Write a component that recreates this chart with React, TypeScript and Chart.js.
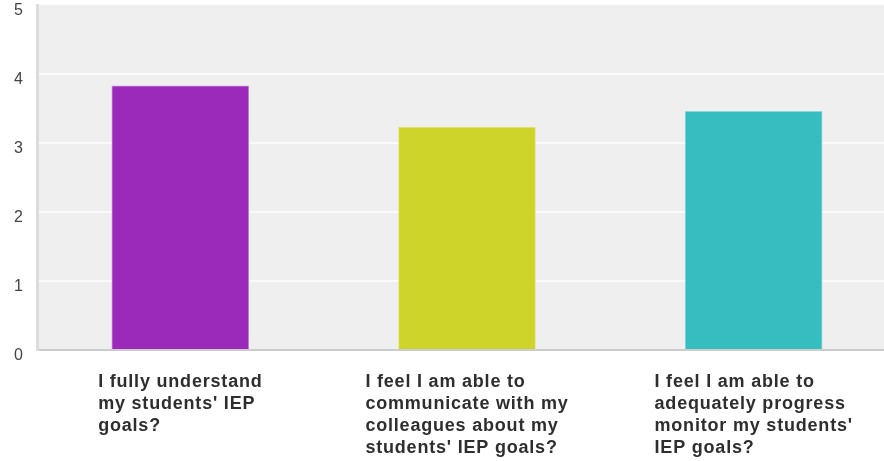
import React, { useEffect, useRef } from "react";
import { Chart, registerables } from "chart.js";

Chart.register(...registerables);

const categoryLines: string[][] = [
  ["I fully understand", "my students' IEP", "goals?"],
  ["I feel I am able to", "communicate with my", "colleagues about my", "students' IEP goals?"],
  ["I feel I am able to", "adequately progress", "monitor my students'", "IEP goals?"],
];
const categories = categoryLines.map((l) => l.join(" "));
const values = [3.83, 3.23, 3.46];
const barColors = ["#9b29b9", "#cfd42b", "#36bdbf"];
const barEdgeColors = ["#c58fd6", "#e3e58a", "#8bd9da"];
const yMin = 0;
const yMax = 5;

const plotBg = {
  id: "plotBg",
  beforeDraw(chart: any) {
    const { ctx, chartArea: a } = chart;
    ctx.save();
    ctx.fillStyle = "#efefef";
    ctx.fillRect(a.left, a.top, a.right - a.left, a.bottom - a.top);
    ctx.restore();
  },
};

const catLabels = {
  id: "catLabels",
  afterDraw(chart: any) {
    const { ctx, chartArea: a } = chart;
    const xs = chart.scales.x;
    ctx.save();
    ctx.font = "bold 18px 'Liberation Sans', Arial, sans-serif";
    (ctx as any).letterSpacing = "0.8px";
    ctx.fillStyle = "#2e2e2e";
    ctx.textAlign = "left";
    ctx.textBaseline = "middle";
    categoryLines.forEach((lines, i) => {
      const cx = xs.getPixelForValue(i);
      const w = Math.max(...lines.map((t) => ctx.measureText(t).width));
      const left = cx - w / 2;
      lines.forEach((t, j) => {
        ctx.fillText(t, left, a.bottom + 32 + j * 22);
      });
    });
    ctx.restore();
  },
};

export default function App() {
  const ref = useRef<HTMLCanvasElement>(null);
  useEffect(() => {
    if (!ref.current) return;
    const chart = new Chart(ref.current, {
      type: "bar",
      data: {
        labels: categories,
        datasets: [
          {
            data: values,
            backgroundColor: barColors,
            borderColor: barEdgeColors,
            borderWidth: 1,
            barThickness: 137,
          },
        ],
      },
      options: {
        animation: false,
        responsive: false,
        maintainAspectRatio: false,
        layout: { padding: { top: 5, right: 3, left: 0, bottom: 0 } },
        plugins: { legend: { display: false }, tooltip: { enabled: false } },
        scales: {
          x: {
            grid: { display: false, drawTicks: false },
            border: { display: true, color: "#cccccc", width: 2 },
            ticks: { display: false },
            afterFit: (s: any) => {
              s.height = 111;
              s.paddingLeft = 0;
              s.paddingRight = 0;
            },
          },
          y: {
            min: yMin,
            max: yMax,
            ticks: {
              stepSize: 1,
              padding: 14,
              labelOffset: 6,
              color: "#444444",
              font: { family: "'Liberation Sans', Arial, sans-serif", size: 16 },
            },
            grid: {
              drawTicks: false,
              lineWidth: 2,
              color: (c: any) =>
                c.tick && (c.tick.value === yMin || c.tick.value === yMax)
                  ? "rgba(0,0,0,0)"
                  : "#fafafa",
            },
            border: { display: true, color: "#dddddd", width: 3 },
            afterFit: (s: any) => {
              s.width = 37;
              s.paddingTop = 0;
              s.paddingBottom = 0;
            },
          },
        },
      },
      plugins: [plotBg, catLabels],
    });
    return () => chart.destroy();
  }, []);
  return (
    <div
      style={{
        position: "absolute",
        left: 0,
        top: 0,
        width: 884,
        height: 461,
        overflow: "hidden",
        background: "#ffffff",
      }}
    >
      <canvas ref={ref} width={900} height={461} style={{ display: "block" }} />
    </div>
  );
}
